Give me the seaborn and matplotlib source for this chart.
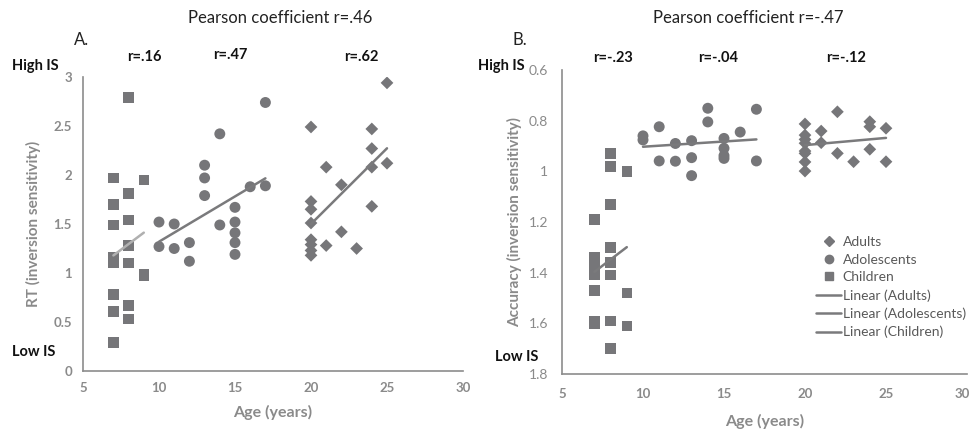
import numpy as np
import pandas as pd
import matplotlib
matplotlib.use("Agg")
import matplotlib.pyplot as plt
import matplotlib.transforms as mtransforms
from matplotlib.lines import Line2D
import seaborn as sns

# ---------------- data ----------------
# Panel A: RT inversion sensitivity
a_child_age = [7, 7, 7, 7, 7, 7, 7, 7, 8, 8, 8, 8, 8, 8, 8, 9, 9, 9]
a_child_val = [1.97, 1.70, 1.49, 1.16, 1.11, 0.78, 0.61, 0.29,
               2.79, 1.81, 1.54, 1.28, 1.10, 0.67, 0.53, 1.95, 0.99, 0.97]
a_adol_age = [10, 10, 11, 11, 12, 12, 13, 13, 13, 14, 14, 15, 15, 15, 15, 15, 16, 17, 17]
a_adol_val = [1.52, 1.27, 1.50, 1.25, 1.31, 1.12, 2.10, 1.97, 1.79, 2.42, 1.49,
              1.67, 1.52, 1.41, 1.31, 1.19, 1.88, 2.74, 1.89]
a_adult_age = [20, 20, 20, 20, 20, 20, 20, 20, 21, 21, 22, 22, 23, 24, 24, 24, 24, 25, 25]
a_adult_val = [2.49, 1.73, 1.65, 1.51, 1.34, 1.29, 1.23, 1.18, 2.08, 1.28,
               1.90, 1.42, 1.25, 2.47, 2.27, 2.08, 1.68, 2.94, 2.12]

# Panel B: Accuracy inversion sensitivity
b_child_age = [7, 7, 7, 7, 7, 7, 7, 8, 8, 8, 8, 8, 8, 8, 8, 9, 9, 9]
b_child_val = [1.19, 1.34, 1.37, 1.41, 1.47, 1.59, 1.60,
               0.93, 0.98, 1.13, 1.30, 1.36, 1.41, 1.59, 1.70, 1.00, 1.48, 1.61]
b_adol_age = [10, 10, 11, 11, 12, 12, 13, 13, 13, 14, 14, 15, 15, 15, 15, 16, 17, 17]
b_adol_val = [0.86, 0.876, 0.824, 0.959, 0.89, 0.96, 0.879, 0.946, 1.017,
              0.751, 0.805, 0.87, 0.909, 0.938, 0.949, 0.845, 0.755, 0.959]
b_adult_age = [20, 20, 20, 20, 20, 20, 20, 20, 21, 21, 22, 22, 23, 24, 24, 24, 25, 25]
b_adult_val = [0.813, 0.857, 0.874, 0.889, 0.92, 0.929, 0.963, 0.999,
               0.841, 0.887, 0.765, 0.929, 0.962, 0.804, 0.824, 0.913, 0.83, 0.962]

groups = ["Adults", "Adolescents", "Children"]
x_ticks = [5, 10, 15, 20, 25, 30]
a_yticks = [0, 0.5, 1, 1.5, 2, 2.5, 3]
b_yticks = [0.6, 0.8, 1, 1.2, 1.4, 1.6, 1.8]
a_titles = ["r=.16", "r=.47", "r=.62"]
b_titles = ["r=-.23", "r=-.04", "r=-.12"]

# ---------------- style ----------------
sns.set_theme(style="white")
plt.rcParams['font.family'] = ['Lato', 'DejaVu Sans']

MARK = "#767679"
LINE = "#7a7a7c"
LIGHT = "#b0b0b0"
TICKC = "#8a8a8a"
SPINE = "#8c8c8c"
markers = {"Adults": "D", "Adolescents": "o", "Children": "s"}
sizes = {"Adults": 42, "Adolescents": 62, "Children": 58}

fig = plt.figure(figsize=(9.71, 4.29), dpi=100)
axA = fig.add_axes([83/971, 1-371/429, (463-83)/971, (371-77)/429])
axB = fig.add_axes([562/971, 1-374/429, (967-562)/971, (374-70)/429])


def draw(ax, data, line_colors):
    for g in groups:
        ages, vals = data[g]
        df = pd.DataFrame({"Age": ages, "val": vals})
        sns.scatterplot(data=df, x="Age", y="val", ax=ax, marker=markers[g],
                        s=sizes[g], color=MARK, edgecolor="none", label=g,
                        zorder=3)
    for g in groups:
        ages, vals = data[g]
        df = pd.DataFrame({"Age": ages, "val": vals})
        sns.regplot(data=df, x="Age", y="val", ax=ax, scatter=False, ci=None,
                    truncate=True, color=line_colors[g],
                    line_kws={"lw": 1.8, "zorder": 4}, label=f"Linear ({g})")


dataA = {"Adults": (a_adult_age, a_adult_val),
         "Adolescents": (a_adol_age, a_adol_val),
         "Children": (a_child_age, a_child_val)}
dataB = {"Adults": (b_adult_age, b_adult_val),
         "Adolescents": (b_adol_age, b_adol_val),
         "Children": (b_child_age, b_child_val)}

draw(axA, dataA, {"Adults": LINE, "Adolescents": LINE, "Children": LIGHT})
draw(axB, dataB, {"Adults": LINE, "Adolescents": LINE, "Children": LINE})

for ax in (axA, axB):
    ax.set_xlim(5, 30)
    ax.set_xticks(x_ticks)
    for s in ("top", "right"):
        ax.spines[s].set_visible(False)
    for s in ("left", "bottom"):
        ax.spines[s].set_color(SPINE)
        ax.spines[s].set_linewidth(1.2)
    ax.grid(False)

axA.set_xlabel("Age (years)", fontsize=11.5, fontweight="bold", color=TICKC,
               labelpad=8)
axB.set_xlabel("Age (years)", fontsize=11.5, fontweight="bold", color=TICKC,
               labelpad=10)

axA.set_ylim(0, 3)
axA.set_yticks(a_yticks)
axA.set_yticklabels(["0", "0.5", "1", "1.5", "2", "2.5", "3"])
axA.tick_params(axis="both", length=0, labelsize=9.5, labelcolor=TICKC, pad=8)
for t in axA.get_xticklabels() + axA.get_yticklabels():
    t.set_fontweight("bold")
axA.set_ylabel("RT (inversion sensitivity)", fontsize=11, fontweight="bold",
               color=TICKC, labelpad=9)
axA.get_legend().remove()

axB.set_ylim(1.8, 0.6)
axB.set_yticks(b_yticks)
axB.set_yticklabels(["0.6", "0.8", "1", "1.2", "1.4", "1.6", "1.8"])
axB.tick_params(axis="y", length=4, width=1, color=SPINE, labelsize=10,
                labelcolor=TICKC, pad=6)
axB.tick_params(axis="x", length=0, labelsize=9.5, labelcolor=TICKC, pad=10)
for t in axB.get_xticklabels():
    t.set_fontweight("bold")
# keep the last tick label ("30") inside the figure edge
last = axB.get_xticklabels()[-1]
last.set_transform(last.get_transform() +
                   mtransforms.ScaledTranslation(-5/100, 0, fig.dpi_scale_trans))
axB.set_ylabel("Accuracy (inversion sensitivity)", fontsize=11,
               fontweight="bold", color=TICKC, labelpad=5)

order = groups + [f"Linear ({g})" for g in groups]
handles = []
for name in order:
    if name.startswith("Linear"):
        handles.append(Line2D([], [], color=LINE, lw=1.8))
    else:
        handles.append(Line2D([], [], ls="", marker=markers[name],
                              markersize=6 if name != "Adults" else 5,
                              color=MARK))
axB.legend(handles, order, loc="upper left", bbox_to_anchor=(0.628, 0.455),
           frameon=False, fontsize=10, handlelength=1.8, handletextpad=0.1,
           labelspacing=0.42, labelcolor="#595959", borderaxespad=0,
           borderpad=0)

# ---------------- annotations ----------------
def ftext(x, y, s, **kw):
    fig.text(x/971, 1-y/429, s, **kw)

ftext(280, 18, "Pearson coefficient r=.46", ha="center", va="center",
      fontsize=12, color="#222222")
ftext(748, 18, "Pearson coefficient r=-.47", ha="center", va="center",
      fontsize=12, color="#222222")
ftext(74, 40, "A.", ha="left", va="center", fontsize=12, color="#222222")
ftext(513, 40, "B.", ha="left", va="center", fontsize=12, color="#222222")
for x, y, s in zip([144, 230, 361], [57, 55, 57], a_titles):
    ftext(x, y, s, ha="center", va="center", fontsize=10.5, fontweight="bold",
          color="#111111")
for x, y, s in zip([613, 718, 846], [58, 58, 58], b_titles):
    ftext(x, y, s, ha="center", va="center", fontsize=10.5, fontweight="bold",
          color="#111111")
ftext(12, 66, "High IS", ha="left", va="center", fontsize=10.5,
      fontweight="bold", color="#111111")
ftext(12, 352, "Low IS", ha="left", va="center", fontsize=10.5,
      fontweight="bold", color="#111111")
ftext(478, 66, "High IS", ha="left", va="center", fontsize=10.5,
      fontweight="bold", color="#111111")
ftext(495, 357, "Low IS", ha="left", va="center", fontsize=10.5,
      fontweight="bold", color="#111111")

fig.savefig("out.png", dpi=100)
